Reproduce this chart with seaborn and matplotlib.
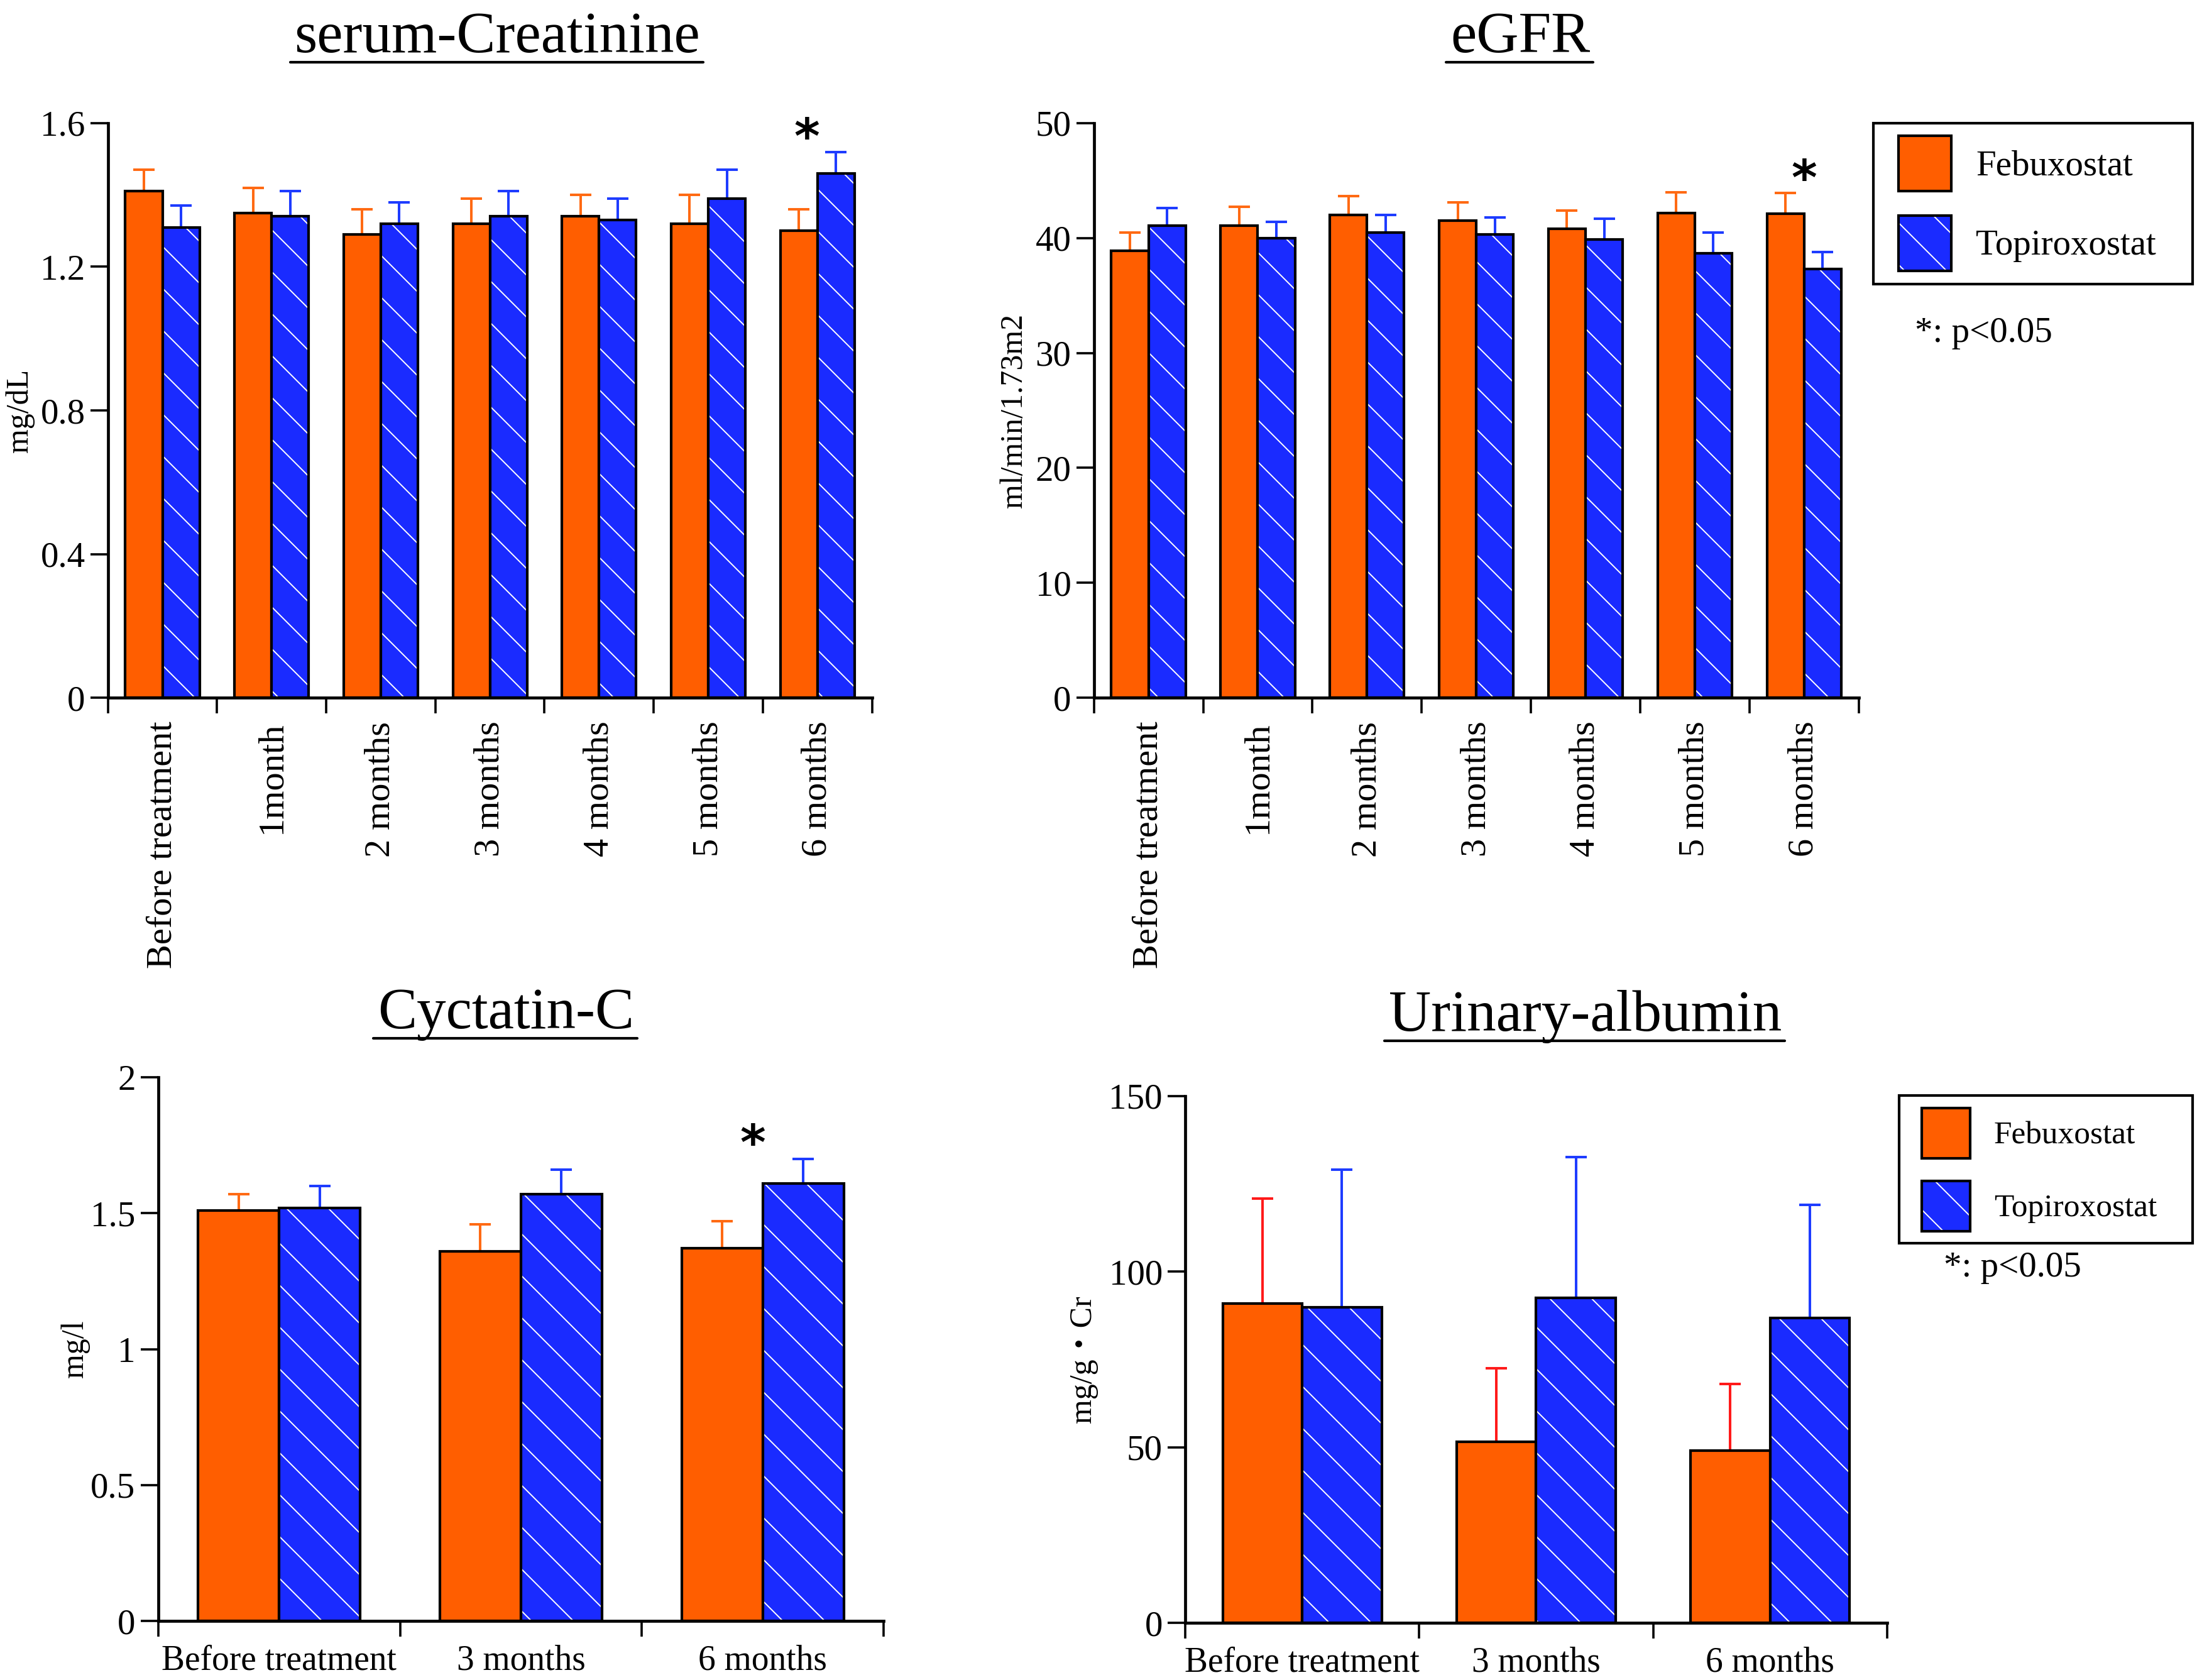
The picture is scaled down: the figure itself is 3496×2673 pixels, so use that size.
import numpy as np
import pandas as pd
import matplotlib
matplotlib.use('Agg')
import matplotlib.pyplot as plt
import seaborn as sns
from matplotlib.patches import Patch, Rectangle
from matplotlib.lines import Line2D

# ---- data ----
drugs = ['Febuxostat', 'Topiroxostat']
months7 = ['Before treatment', '1month', '2 months', '3 months', '4 months', '5 months', '6 months']
months3 = ['Before treatment', '3 months', '6 months']

# serum-Creatinine (mg/dL)
cre_feb = [1.41, 1.35, 1.29, 1.32, 1.34, 1.32, 1.30]
cre_feb_se = [0.06, 0.07, 0.07, 0.07, 0.06, 0.08, 0.06]
cre_top = [1.31, 1.34, 1.32, 1.34, 1.33, 1.39, 1.46]
cre_top_se = [0.06, 0.07, 0.06, 0.07, 0.06, 0.08, 0.06]

# eGFR (ml/min/1.73m2)
egfr_feb = [38.9, 41.1, 42.0, 41.5, 40.8, 42.2, 42.1]
egfr_feb_se = [1.6, 1.6, 1.65, 1.6, 1.6, 1.8, 1.8]
egfr_top = [41.1, 40.0, 40.5, 40.3, 39.9, 38.7, 37.3]
egfr_top_se = [1.5, 1.4, 1.5, 1.5, 1.8, 1.8, 1.5]

# Cystatin-C (mg/l)
cys_feb = [1.51, 1.36, 1.37]
cys_feb_se = [0.06, 0.10, 0.10]
cys_top = [1.52, 1.57, 1.61]
cys_top_se = [0.08, 0.09, 0.09]

# Urinary albumin (mg/g Cr)
alb_feb = [91.0, 51.6, 49.0]
alb_feb_se = [29.9, 20.9, 19.0]
alb_top = [89.9, 92.5, 86.9]
alb_top_se = [39.1, 40.2, 32.1]

ORANGE = '#FF5E00'
BLUE = '#1A2BFF'
LW = 1.5

sns.set_style('ticks', {'axes.edgecolor': 'black', 'xtick.color': 'black',
                        'ytick.color': 'black', 'text.color': 'black',
                        'axes.labelcolor': 'black'})
plt.rcParams['font.family'] = ['Liberation Serif', 'Noto Sans CJK JP']
plt.rcParams['hatch.linewidth'] = 0.7
plt.rcParams['axes.linewidth'] = 1.7

fig = plt.figure(figsize=(17.48, 13.365), dpi=200)


def panel(rect, cats, feb, feb_se, top, top_se, ylim, yticks, ylabel, lx,
          err_colors, rotate, width):
    ax = fig.add_axes(rect)
    n = len(cats)
    df = pd.DataFrame({'time': cats * 2, 'value': feb + top,
                       'drug': [drugs[0]] * n + [drugs[1]] * n})
    sns.barplot(data=df, x='time', y='value', hue='drug', order=cats,
                hue_order=drugs, palette=[ORANGE, BLUE], width=width,
                errorbar=None, edgecolor='black', linewidth=LW,
                saturation=1, legend=False, ax=ax)
    for cont, se, col in zip(ax.containers, [feb_se, top_se], err_colors):
        xs = [p.get_x() + p.get_width() / 2 for p in cont]
        ys = [p.get_height() for p in cont]
        ax.errorbar(xs, ys, yerr=[np.zeros(n), se], fmt='none', ecolor=col,
                    elinewidth=1.45, capsize=6.1, capthick=1.45, zorder=0.9)
    # white hatch on Topiroxostat bars, black outline on top
    for p in ax.containers[1]:
        p.set_hatch('\\')
        p.set_edgecolor('white')
        p.set_linewidth(0)
        ax.add_patch(Rectangle(p.get_xy(), p.get_width(), p.get_height(),
                               fill=False, edgecolor='black', linewidth=LW,
                               zorder=p.get_zorder() + 0.01))
    ax.set_xlim(-0.5, n - 0.5)
    ax.set_ylim(*ylim)
    ax.set_yticks(yticks, [f'{v:g}' for v in yticks])
    ax.set_xticks(range(n), cats, rotation=90 if rotate else 0)
    ax.set_xticks(np.arange(n + 1) - 0.5, minor=True)
    ax.tick_params(axis='x', which='major', length=0, pad=13.5,
                   labelsize=21 if rotate else 20)
    ax.tick_params(axis='x', which='minor', length=9, width=1.3)
    ax.tick_params(axis='y', length=10, width=1.3, pad=3, labelsize=20.5)
    sns.despine(ax=ax)
    ax.set_xlabel('')
    ax.set_ylabel(ylabel, fontsize=18, va='center')
    ax.yaxis.set_label_coords(lx, 0.5)
    return ax


ax1 = panel([0.0491, 0.5847, 0.3478, 0.3420], months7, cre_feb, cre_feb_se,
            cre_top, cre_top_se, (0, 1.6), [0, 0.4, 0.8, 1.2, 1.6], 'mg/dL',
            -0.115, ['#FF6A13', '#1E3CFF'], True, 0.68)
ax2 = panel([0.4979, 0.5847, 0.3481, 0.3420], months7, egfr_feb, egfr_feb_se,
            egfr_top, egfr_top_se, (0, 50), [0, 10, 20, 30, 40, 50],
            'ml/min/1.73m2', -0.1045, ['#FF6A13', '#1E3CFF'], True, 0.68)
ax3 = panel([0.0720, 0.0351, 0.3302, 0.3237], months3, cys_feb, cys_feb_se,
            cys_top, cys_top_se, (0, 2), [0, 0.5, 1, 1.5, 2], 'mg/l',
            -0.114, ['#FF6A13', '#1E3CFF'], False, 0.67)
ax4 = panel([0.5395, 0.0339, 0.3194, 0.3137], months3, alb_feb, alb_feb_se,
            alb_top, alb_top_se, (0, 150), [0, 50, 100, 150], 'mg/g・Cr',
            -0.1455, ['#FF1A1A', '#1E3CFF'], False, 0.68)

# significance markers
for ax, (xm, ym) in [(ax1, (5.9, 1.59)), (ax2, (6.0, 46.05)), (ax3, (1.96, 1.794))]:
    ax.annotate('*', xy=(xm, ym), xytext=(0, -0.54 * 28), textcoords='offset points',
                ha='center', va='baseline', fontsize=28, fontweight='bold',
                family='DejaVu Sans')


def add_legend(ax, anchor, frame, fs, hl, hh, ls, htp):
    h1 = Patch(facecolor=ORANGE, edgecolor='black', linewidth=LW)
    h2a = Patch(facecolor=BLUE, edgecolor='white', hatch='\\', linewidth=0)
    h2b = Patch(facecolor='none', edgecolor='black', linewidth=LW)
    ax.legend([h1, (h2a, h2b)], drugs, loc='upper left',
              bbox_to_anchor=anchor, bbox_transform=fig.transFigure,
              borderaxespad=0, borderpad=0, fontsize=fs, frameon=False,
              handlelength=hl, handleheight=hh, labelspacing=ls,
              handletextpad=htp)
    x0, y0, x1, y1 = frame
    fig.add_artist(Rectangle((x0, y0), x1 - x0, y1 - y0, transform=fig.transFigure,
                             fill=False, edgecolor='black', linewidth=1.5))


add_legend(ax2, (0.8641, 0.9192), (0.8527, 0.8309, 0.9980, 0.9267),
           20.5, 1.476, 2.003, 0.685, 0.69)
add_legend(ax4, (0.8747, 0.3404), (0.8644, 0.2600, 0.9980, 0.3479),
           18.5, 1.50, 2.017, 0.70, 0.74)
fig.text(0.9028, 0.8017, '*: p<0.05', ha='center', va='center', fontsize=20.5)
fig.text(0.9159, 0.2454, '*: p<0.05', ha='center', va='center', fontsize=20.5)

# underlined panel titles
titles = [fig.text(0.2264, 0.9691, 'serum-Creatinine', ha='center', va='baseline', fontsize=33.5),
          fig.text(0.6920, 0.9691, 'eGFR', ha='center', va='baseline', fontsize=33.5),
          fig.text(0.2302, 0.3880, 'Cyctatin-C', ha='center', va='baseline', fontsize=33.5),
          fig.text(0.7216, 0.3865, 'Urinary-albumin', ha='center', va='baseline', fontsize=33.5)]
fig.canvas.draw()
r = fig.canvas.get_renderer()
W, H = fig.bbox.width, fig.bbox.height
for t in titles:
    bb = t.get_window_extent(r)
    yb = t.get_position()[1] * H - 16
    fig.add_artist(Line2D([(bb.x0 - 7) / W, (bb.x1 + 5) / W], [yb / H, yb / H],
                          color='black', lw=1.5))

fig.savefig('out.png', dpi=200)
